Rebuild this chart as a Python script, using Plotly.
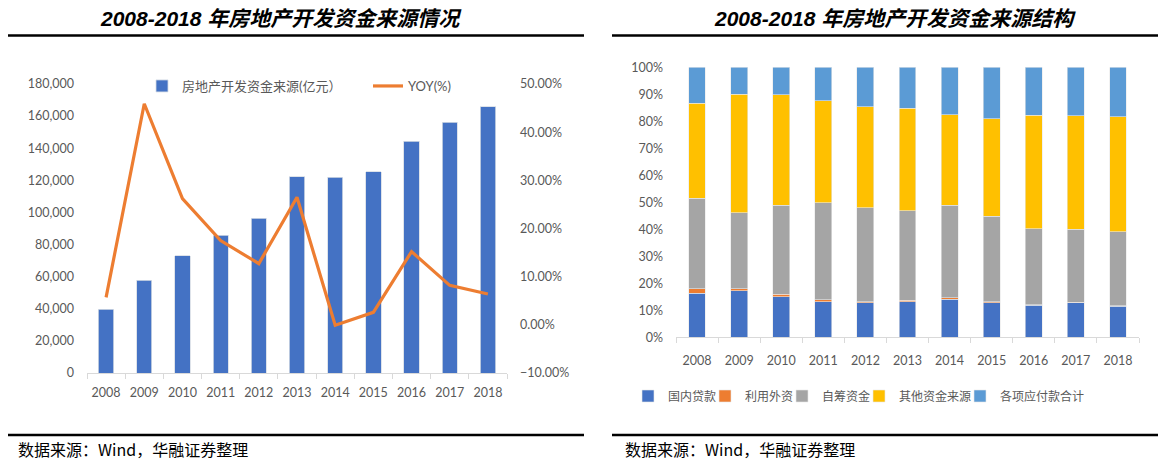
import plotly.graph_objects as go

# Page body has an 8px default margin, so the figure is laid out in page
# pixels offset by 8.
OFF = 8
W, H = 1166 - OFF, 463 - OFF

years = ["2008", "2009", "2010", "2011", "2012", "2013", "2014", "2015", "2016", "2017", "2018"]
funds = [39619, 57799, 72944, 85689, 96537, 122122, 121991, 125203, 144214, 156053, 165963]
yoy = [5.7, 45.9, 26.2, 17.5, 12.7, 26.5, -0.1, 2.6, 15.2, 8.2, 6.4]

loans = [16.3, 17.3, 15.1, 13.2, 12.8, 13.2, 14.1, 12.8, 11.9, 12.8, 11.5]
foreign = [1.6, 0.7, 0.9, 0.8, 0.4, 0.6, 0.6, 0.3, 0.1, 0.2, 0.1]
selfraised = [33.6, 28.2, 32.9, 35.8, 34.8, 33.1, 34.2, 31.7, 28.2, 27.0, 27.5]
other = [35.2, 43.8, 40.9, 37.9, 37.4, 38.0, 33.6, 36.2, 42.0, 42.1, 42.5]
payables = [13.3, 10.0, 10.2, 12.3, 14.6, 15.1, 17.5, 19.0, 17.8, 17.9, 18.4]

struct_names = ["国内贷款", "利用外资", "自筹资金", "其他资金来源", "各项应付款合计"]
struct_series = [loans, foreign, selfraised, other, payables]
struct_colors = ["#4472C4", "#ED7D31", "#A5A5A5", "#FFC000", "#5B9BD5"]

TICK_FONT = dict(family="Lato, 'Noto Sans CJK SC', sans-serif", size=12.5, color="#595959")
CJK_FONT = "Lato, 'Noto Sans CJK SC', sans-serif"


def px(x):
    return (x - OFF) / W


def py(y):
    return 1 - (y - OFF) / H


fig = go.Figure()

# Left chart
fig.add_trace(go.Bar(
    x=years, y=funds, name="房地产开发资金来源(亿元）",
    marker=dict(color="#4472C4", line=dict(color="#D6DCE5", width=0.8)),
    xaxis="x", yaxis="y", legend="legend",
))
fig.add_trace(go.Scatter(
    x=years, y=[v / 100 for v in yoy], name="YOY(%)", mode="lines",
    line=dict(color="#ED7D31", width=3.2),
    xaxis="x", yaxis="y2", legend="legend2",
))

# Right chart
legend_ids = ["legend3", "legend4", "legend5", "legend6", "legend7"]
for name, vals, col, lid in zip(struct_names, struct_series, struct_colors, legend_ids):
    fig.add_trace(go.Bar(
        x=years, y=vals, name=name,
        marker=dict(color=col, line=dict(color="#E8E8E8", width=0.6)),
        xaxis="x3", yaxis="y3", legend=lid,
    ))

LEG_COMMON = dict(orientation="h", xanchor="left", yanchor="middle",
                  itemwidth=30, bgcolor="rgba(0,0,0,0)")

fig.update_layout(
    width=W, height=H,
    margin=dict(l=0, r=0, t=0, b=0, autoexpand=False),
    paper_bgcolor="white", plot_bgcolor="white",
    barmode="stack",
    bargap=0.6,
    xaxis=dict(
        domain=[px(87), px(507)], type="category", showgrid=False,
        showline=True, linecolor="#D9D9D9", linewidth=1, tickangle=0,
        ticks="outside", tickson="boundaries", ticklen=5, tickcolor="#D9D9D9",
        tickfont=TICK_FONT, anchor="y", automargin=False, ticklabelstandoff=8,
    ),
    yaxis=dict(
        domain=[py(373), py(84)], range=[0, 180000], dtick=20000,
        tickformat=",d", showgrid=False, zeroline=False, showline=False,
        tickfont=TICK_FONT, anchor="x", ticklabelstandoff=12, automargin=False,
    ),
    yaxis2=dict(
        domain=[py(373), py(84)], range=[-0.1, 0.5], dtick=0.1,
        tickformat=".2%", showgrid=False, zeroline=False, showline=False,
        overlaying="y", side="right", anchor="x", automargin=False,
        tickfont=TICK_FONT, ticklabelstandoff=12,
    ),
    xaxis3=dict(
        domain=[px(676), px(1139)], type="category", showgrid=False,
        showline=True, linecolor="#D9D9D9", linewidth=1, tickangle=0,
        ticks="outside", tickson="boundaries", ticklen=5, tickcolor="#D9D9D9",
        tickfont=TICK_FONT, anchor="y3", automargin=False, ticklabelstandoff=12,
    ),
    yaxis3=dict(
        domain=[py(337.3), py(67.3)], range=[0, 100], dtick=10,
        ticksuffix="%", showgrid=False, zeroline=False, showline=False,
        tickfont=TICK_FONT, anchor="x3", ticklabelstandoff=12, automargin=False,
    ),
    legend=dict(x=px(142), y=py(86), font=dict(family=CJK_FONT, size=13, color="#595959"), **LEG_COMMON),
    legend2=dict(x=px(368), y=py(86), font=dict(family=CJK_FONT, size=13, color="#595959"), **LEG_COMMON),
    showlegend=True,
)

right_leg_x = [628, 705, 782, 859, 960]
for lid, lx in zip(legend_ids, right_leg_x):
    fig.update_layout({lid: dict(x=px(lx), y=py(396),
                                 font=dict(family=CJK_FONT, size=12, color="#595959"),
                                 **LEG_COMMON)})

# Title and footer rules
shapes = []
for x0, x1 in [(5, 584), (612, 1162)]:
    shapes.append(dict(type="line", xref="paper", yref="paper",
                       x0=px(x0), x1=px(x1), y0=py(35.5), y1=py(35.5),
                       line=dict(color="black", width=2.5)))
    shapes.append(dict(type="line", xref="paper", yref="paper",
                       x0=px(x0), x1=px(x1), y0=py(435), y1=py(435),
                       line=dict(color="black", width=2.5)))
fig.update_layout(shapes=shapes)

TITLE_FONT = dict(family="'Liberation Sans', Arial, 'Noto Sans CJK SC', sans-serif",
                  size=21, color="black", weight="bold", style="italic")
FOOT_FONT = dict(family="'Noto Sans CJK SC', sans-serif", size=16, color="black")
annotations = [
    dict(text="2008-2018 年房地产开发资金来源情况", x=px(281), y=py(18),
         xref="paper", yref="paper", showarrow=False, xanchor="center",
         yanchor="middle", font=TITLE_FONT),
    dict(text="2008-2018 年房地产开发资金来源结构", x=px(895), y=py(18),
         xref="paper", yref="paper", showarrow=False, xanchor="center",
         yanchor="middle", font=TITLE_FONT),
    dict(text="数据来源：Wind，华融证券整理", x=px(16), y=py(449),
         xref="paper", yref="paper", showarrow=False, xanchor="left",
         yanchor="middle", font=FOOT_FONT),
    dict(text="数据来源：Wind，华融证券整理", x=px(623), y=py(449),
         xref="paper", yref="paper", showarrow=False, xanchor="left",
         yanchor="middle", font=FOOT_FONT),
]
fig.update_layout(annotations=annotations)

fig.write_html("out.html")
